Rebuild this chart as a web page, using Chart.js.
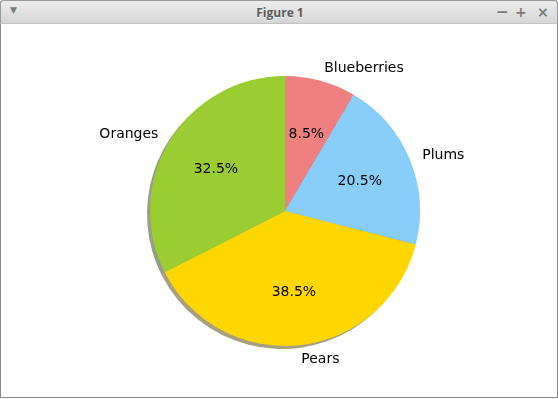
<!DOCTYPE html>
<html><head><meta charset="utf-8">
<script src="https://cdn.jsdelivr.net/npm/chart.js@4"></script>
<style>
html,body{margin:0;padding:0;width:558px;height:399px;overflow:hidden;background:#fff;}
#win{position:absolute;left:0;top:0;width:556px;height:397px;border:1px solid #8a8a8a;border-top:none;border-radius:4px 4px 0 0;background:#fff;}
#bar{position:absolute;left:0;top:0;width:558px;height:24px;background:linear-gradient(#ececec,#d6d6d6);border:1px solid #9a9a9a;border-bottom:1px solid #c4c4c4;box-sizing:border-box;border-radius:4px 4px 0 0;}
#title{position:absolute;left:0;width:558px;top:3px;text-align:center;font:bold 12px "Open Sans","Noto Sans",sans-serif;color:#5a5a5a;text-shadow:0 1px 0 #f4f4f4;}
.btn{position:absolute;top:3px;font:bold 14px "DejaVu Sans",sans-serif;color:#7a7a7a;}
#wrap{position:absolute;left:0;top:0;width:558px;height:399px;}
</style></head>
<body>
<div id="win"></div>
<div id="bar"><div id="title">Figure 1</div>
<div class="btn" style="left:9px;top:4px;font-size:9px;">&#9660;</div>
<div class="btn" style="left:495px;top:2px;font-size:15px;">&#8722;</div>
<div class="btn" style="left:514px;">+</div>
<div class="btn" style="left:536px;">&#215;</div>
</div>
<div id="wrap"><canvas id="c" width="558" height="399"></canvas></div>
<script>
const labels = ["Blueberries", "Plums", "Pears", "Oranges"];
const values = [8.5, 20.5, 38.5, 32.5];
const colors = ["#F08080", "#87CEFA", "#FFD700", "#9ACD32"];
const pctLabels = ["8.5%", "20.5%", "38.5%", "32.5%"];

function hexRgb(h){return [parseInt(h.substr(1,2),16),parseInt(h.substr(3,2),16),parseInt(h.substr(5,2),16)];}

const shadowPlugin = {
  id:'shadow',
  beforeDatasetsDraw(chart){
    const ctx = chart.ctx;
    const meta = chart.getDatasetMeta(0);
    meta.data.forEach((arc,i)=>{
      const p = arc.getProps(['x','y','startAngle','endAngle','outerRadius'], true);
      const c = hexRgb(colors[i]);
      ctx.save();
      ctx.fillStyle = `rgba(${Math.round(c[0]*0.3)},${Math.round(c[1]*0.3)},${Math.round(c[2]*0.3)},0.5)`;
      ctx.beginPath();
      const ox = -3, oy = 3;
      ctx.moveTo(p.x+ox, p.y+oy);
      ctx.arc(p.x+ox, p.y+oy, p.outerRadius, p.startAngle, p.endAngle);
      ctx.closePath();
      ctx.fill();
      ctx.restore();
    });
  }
};

const labelPlugin = {
  id:'pieLabels',
  afterDatasetsDraw(chart){
    const ctx = chart.ctx;
    const meta = chart.getDatasetMeta(0);
    ctx.save();
    ctx.font = '14px "DejaVu Sans"';
    ctx.fillStyle = '#000';
    ctx.textBaseline = 'middle';
    meta.data.forEach((arc,i)=>{
      const p = arc.getProps(['x','y','startAngle','endAngle','outerRadius'], true);
      const mid = (p.startAngle + p.endAngle)/2;
      const r = p.outerRadius;
      const lx = p.x + 1.1*r*Math.cos(mid), ly = p.y + 1.1*r*Math.sin(mid) + 1;
      ctx.textAlign = Math.cos(mid) >= 0 ? 'left' : 'right';
      ctx.fillText(labels[i], lx, ly);
      ctx.textAlign = 'center';
      ctx.fillText(pctLabels[i], p.x + 0.6*r*Math.cos(mid), p.y + 0.6*r*Math.sin(mid) + 1);
    });
    ctx.restore();
  }
};

new Chart(document.getElementById('c'), {
  type:'pie',
  data:{labels:labels, datasets:[{data:values, backgroundColor:colors, borderWidth:0}]},
  options:{
    responsive:false, animation:false,
    rotation:0,
    layout:{padding:{left:150,right:138,top:76,bottom:53}},
    plugins:{legend:{display:false}, tooltip:{enabled:false}}
  },
  plugins:[shadowPlugin, labelPlugin]
});
</script>
</body></html>
